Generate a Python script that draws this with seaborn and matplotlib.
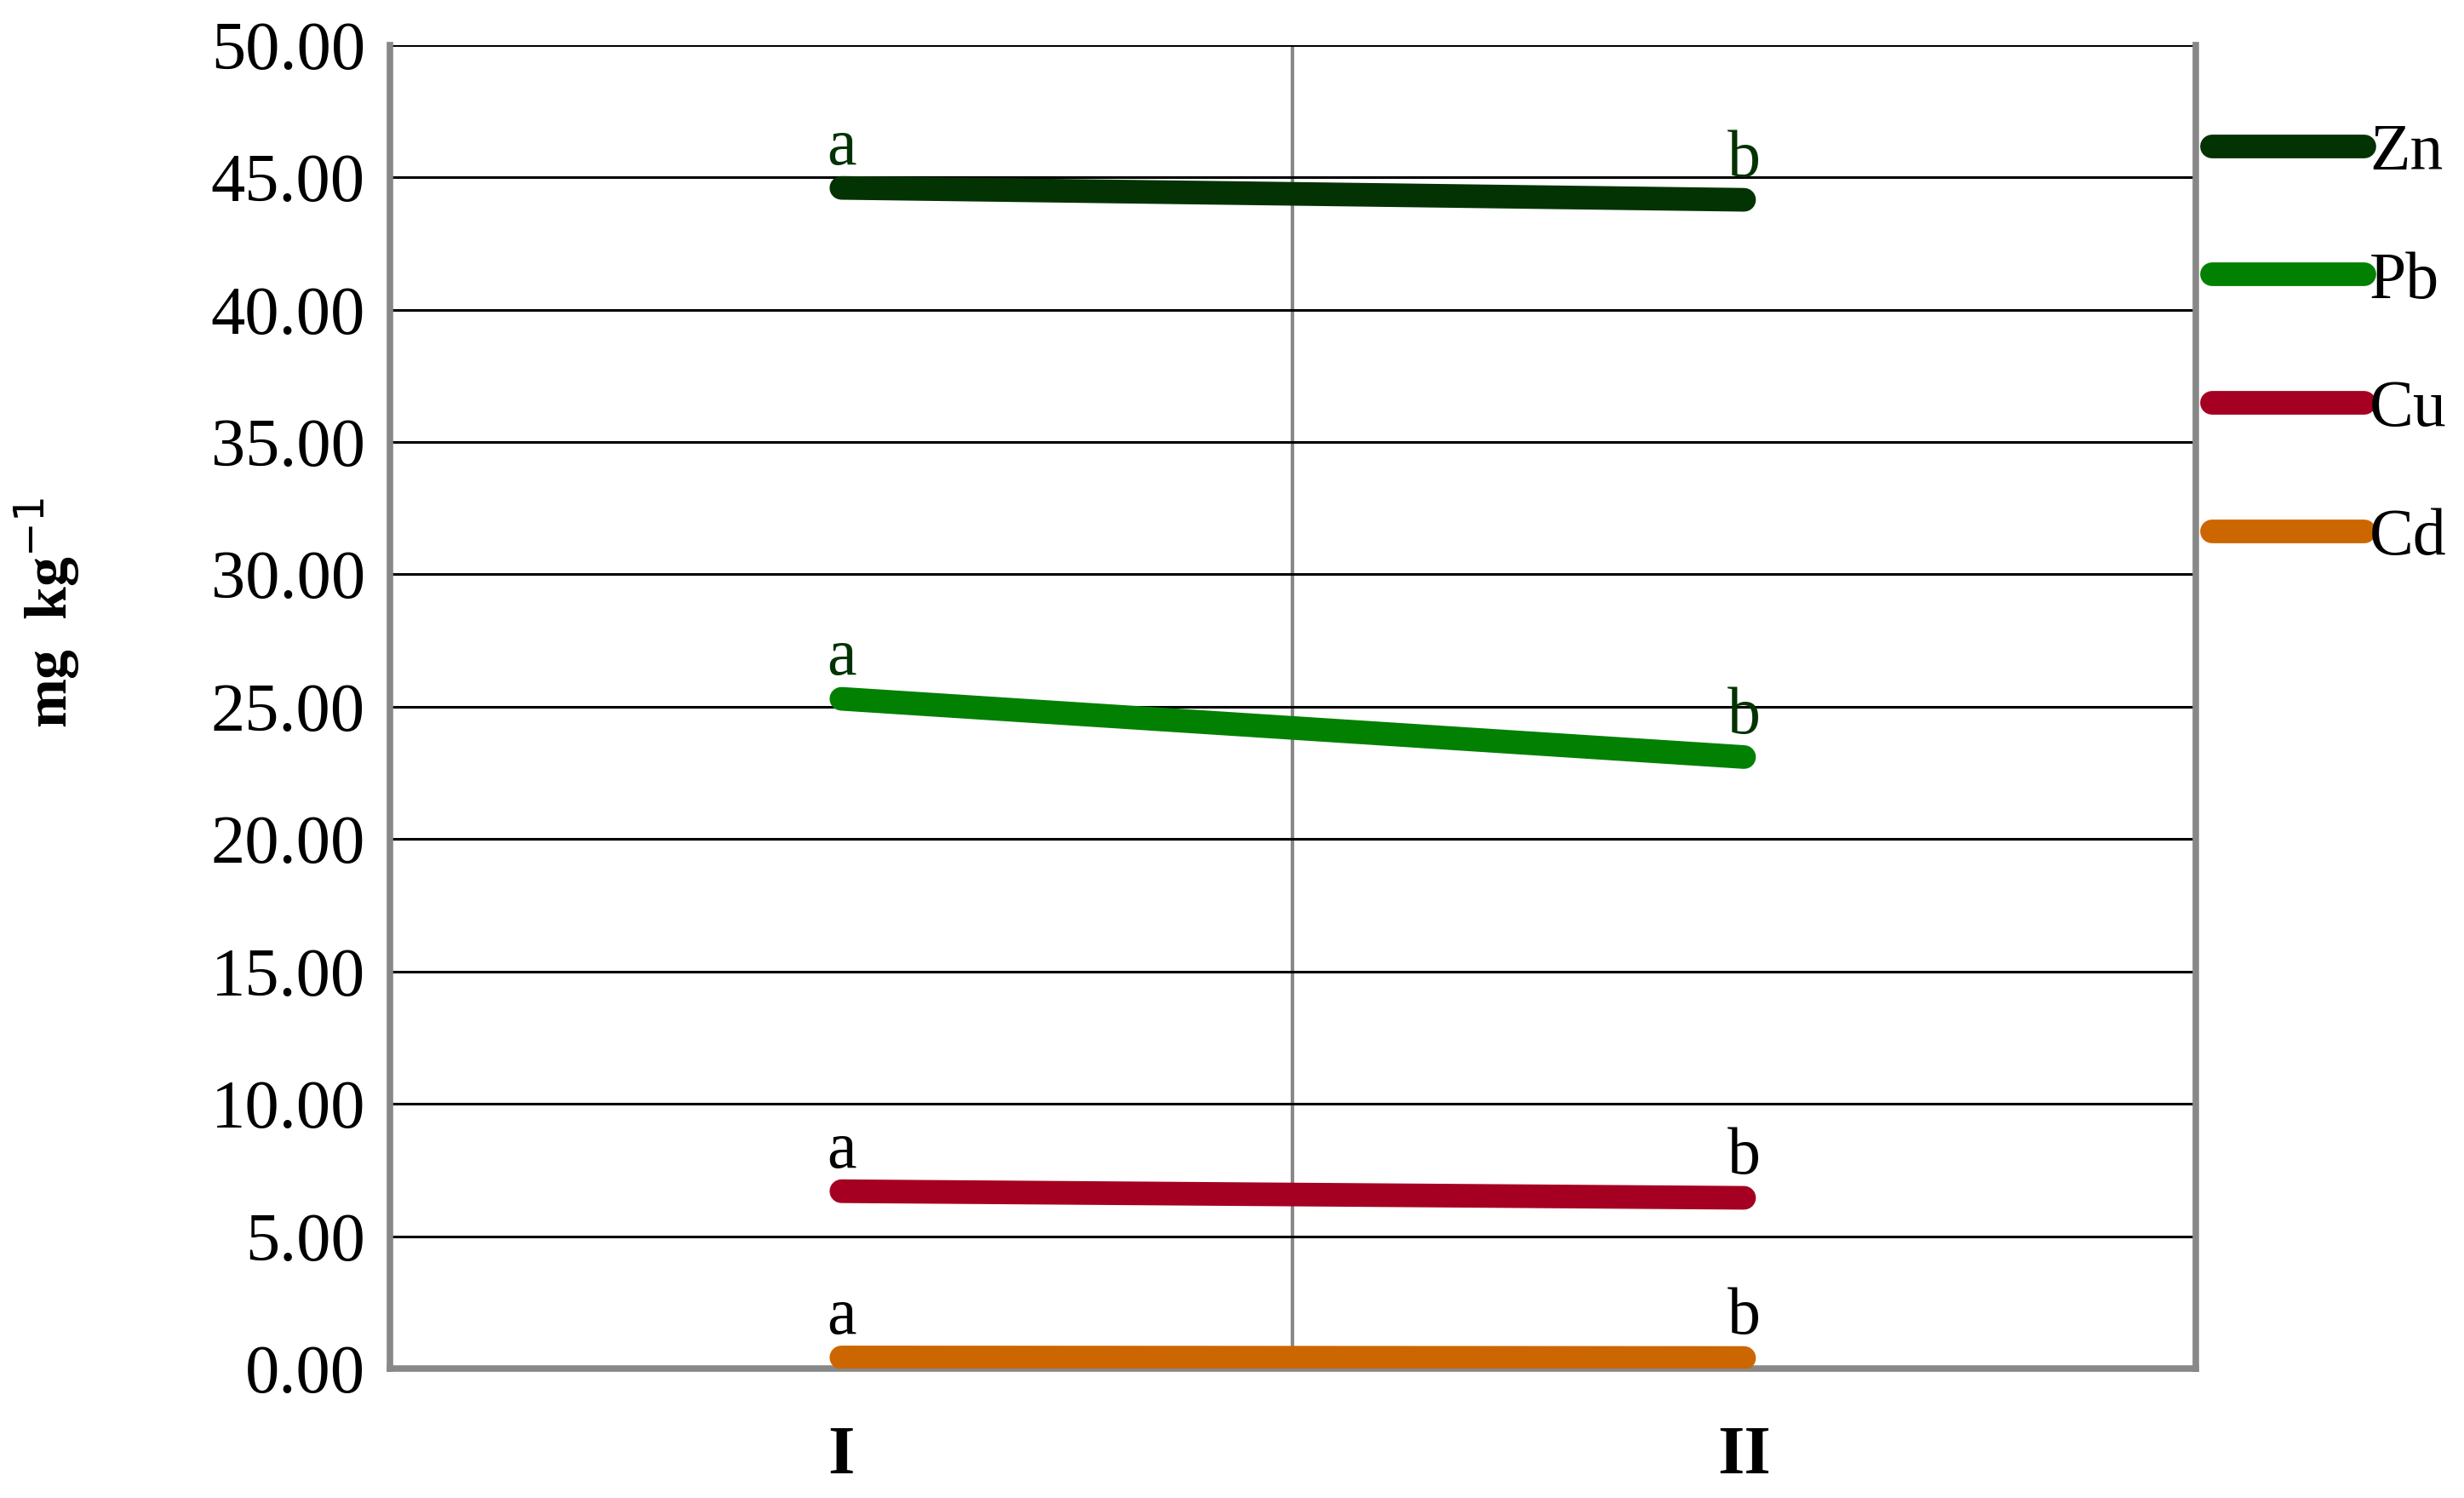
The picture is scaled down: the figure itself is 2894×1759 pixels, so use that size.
import pandas as pd
import matplotlib.pyplot as plt
import seaborn as sns
from matplotlib.lines import Line2D

periods = ["I", "II"]
metals = ["Zn", "Pb", "Cu", "Cd"]
zn = [44.60, 44.15]
pb = [25.30, 23.10]
cu = [6.70, 6.45]
cd = [0.42, 0.40]
letters = ["a", "b"]
colors = {"Zn": "#033303", "Pb": "#028002", "Cu": "#A50021", "Cd": "#CC6600"}
letter_colors = {"Zn": "#033303", "Pb": "#033303", "Cu": "black", "Cd": "black"}

data = pd.DataFrame({
    "period": periods * 4,
    "metal": [m for m in metals for _ in periods],
    "value": zn + pb + cu + cd,
})

sns.set_style("white")
plt.rcParams["font.family"] = ["Liberation Serif", "DejaVu Serif"]
plt.rcParams["text.color"] = "black"
plt.rcParams["axes.labelcolor"] = "black"

LW = 20

fig = plt.figure(figsize=(28.94, 17.59), dpi=100)
ax = fig.add_axes([0.1583, 0.0864, 0.891 - 0.1583, 0.970 - 0.0864])

sns.lineplot(data=data, x="period", y="value", hue="metal", palette=colors,
             hue_order=metals, legend=False, ax=ax, zorder=3)
for ln in ax.lines:
    ln.set_linewidth(LW)
    ln.set_solid_capstyle("round")

# letters above each point
for m in metals:
    sub = data[data["metal"] == m]
    for i, v in enumerate(sub["value"]):
        ax.annotate(letters[i], (i, v), xytext=(0, 8), textcoords="offset points",
                    ha="center", va="bottom", fontsize=56,
                    color=letter_colors[m], zorder=4)

ax.set_ylim(0, 50)
ax.set_xlim(-0.5, 1.5)
ax.set_yticks(range(0, 51, 5))
ax.set_yticklabels([f"{t:.2f}" for t in range(0, 51, 5)], fontsize=58)
ax.set_xticks([0, 1])
ax.set_xticklabels(periods, fontsize=58, fontweight="bold")
ax.set_xticks([-0.5, 0.5, 1.5], minor=True)
ax.tick_params(axis="x", which="major", length=0, pad=48, labelcolor="black")
ax.tick_params(axis="x", which="minor", length=19, width=3, color="#888888",
               direction="out")
ax.tick_params(axis="y", length=19, width=5, color="#888888", pad=2,
               labelcolor="black")

ax.grid(axis="y", color="black", linewidth=2.2)
ax.grid(axis="x", which="minor", color="#888888", linewidth=3)
ax.set_axisbelow(True)

for s in ["left", "bottom", "right"]:
    ax.spines[s].set_color("#888888")
    ax.spines[s].set_linewidth(5.5)
ax.spines["top"].set_visible(False)

ax.set_xlabel("")
ax.set_ylabel("mg  kg$^{-1}$", fontsize=50, fontweight="bold")
ax.yaxis.set_label_coords(-0.171, 0.571)

handles = [Line2D([0], [0], color=colors[m], linewidth=LW, solid_capstyle="round")
           for m in metals]
fig.legend(handles, metals, loc="upper left", bbox_to_anchor=(0.8977, 0.918),
           frameon=False, fontsize=56, handlelength=2.3, handletextpad=0.08,
           labelspacing=1.02, borderaxespad=0, borderpad=0, labelcolor="black")

fig.savefig("out.png", dpi=100)
